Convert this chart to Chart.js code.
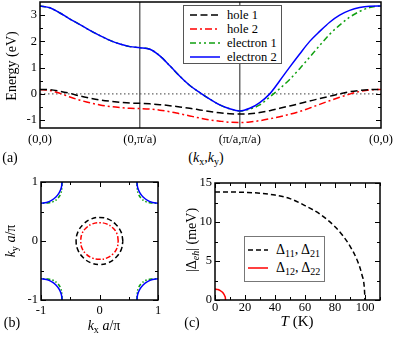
<!DOCTYPE html>
<html lang="en">
<head>
<meta charset="UTF-8">
<title>Bands, Fermi surface and gaps</title>
<script src="https://cdn.jsdelivr.net/npm/chart.js"></script>
<style>
  body { margin: 0; background: #fff; }
  #fig { position: relative; width: 395px; height: 338px; font-family: "Liberation Serif", "Times New Roman", serif; color: #000; }
  #fig canvas { position: absolute; }
  .lbl { position: absolute; white-space: nowrap; font-size: 13px; line-height: 1; }
  .ctr { transform: translate(-50%, -50%); }
  .rot { transform: translate(-50%, -50%) rotate(-90deg); }
  .legend { position: absolute; background: #fff; box-sizing: border-box; }
  .legend span { position: absolute; white-space: nowrap; font-size: 12.5px; line-height: 1; transform: translateY(-50%); }
  .legend svg { position: absolute; }
  sub { font-size: 0.72em; position: relative; top: 0.25em; vertical-align: baseline; line-height: 0; }
</style>
</head>
<body>
<div id="fig">
  <canvas id="bands" width="395" height="150" style="left:0;top:0"></canvas>
  <canvas id="fermi" width="195" height="150" style="left:0;top:170px"></canvas>
  <canvas id="gaps" width="200" height="150" style="left:195px;top:170px"></canvas>

  <div class="legend" id="legA" style="left:183px;top:5px;width:99px;height:59px;border:1.5px solid #555"></div>
  <div class="legend" id="legC" style="left:244px;top:236px;width:81px;height:46px;border:1.5px solid #777"></div>

  <div class="lbl rot" style="left:12px;top:66px;font-size:14px">Energy (eV)</div>
  <div class="lbl ctr" style="left:206px;top:158px;font-size:14px">(<i>k</i><sub>x</sub>,<i>k</i><sub>y</sub>)</div>
  <div class="lbl ctr" style="left:10px;top:158px;font-size:14px">(a)</div>

  <div class="lbl rot" style="left:11px;top:241px;font-size:14px"><i>k</i><sub>y</sub> <i>a</i>/π</div>
  <div class="lbl ctr" style="left:104px;top:326px;font-size:14px"><i>k</i><sub>x</sub> <i>a</i>/π</div>
  <div class="lbl ctr" style="left:12px;top:323px;font-size:14px">(b)</div>

  <div class="lbl rot" style="left:192px;top:240px;font-size:14px">|Δ<sub><i>eh</i></sub>| (meV)</div>
  <div class="lbl ctr" style="left:297px;top:321px;font-size:15px"><i>T</i> (K)</div>
  <div class="lbl ctr" style="left:192px;top:323px;font-size:14px">(c)</div>
</div>

<script>
// ---- panel (a): bands along (0,0) -> (0,pi/a) -> (pi/a,pi/a) -> (0,0)
const kPath = [0, 0.1, 0.2, 0.3, 0.4, 0.5, 0.6, 0.7, 0.8, 0.9, 1.0,
  1.1, 1.2, 1.3, 1.4, 1.5, 1.6, 1.7, 1.8, 1.9, 2.0,
  2.1, 2.2, 2.3, 2.4, 2.5, 2.6, 2.7, 2.8, 2.9, 3.0, 3.1, 3.2, 3.3, 3.414];
const hole1 = [0.17, 0.16, 0.10, 0.02, -0.08, -0.16, -0.23, -0.28, -0.32, -0.35, -0.36,
  -0.38, -0.41, -0.45, -0.50, -0.55, -0.61, -0.67, -0.72, -0.76, -0.77,
  -0.76, -0.71, -0.64, -0.55, -0.46, -0.37, -0.27, -0.18, -0.09, 0.0, 0.08, 0.13, 0.16, 0.17];
const hole2 = [0.17, 0.13, 0.02, -0.12, -0.24, -0.34, -0.42, -0.48, -0.52, -0.55, -0.56,
  -0.58, -0.62, -0.68, -0.76, -0.84, -0.92, -0.99, -1.04, -1.08, -1.09,
  -1.07, -1.02, -0.95, -0.87, -0.78, -0.67, -0.54, -0.40, -0.26, -0.13, -0.01, 0.09, 0.15, 0.17];
const electron1 = [3.35, 3.28, 3.08, 2.85, 2.64, 2.42, 2.22, 2.04, 1.90, 1.80, 1.76,
  1.70, 1.45, 1.07, 0.67, 0.32, 0.05, -0.20, -0.42, -0.57, -0.65,
  -0.58, -0.42, -0.12, 0.20, 0.55, 0.96, 1.40, 1.84, 2.27, 2.62, 2.92, 3.14, 3.29, 3.35];
const electron2 = [3.35, 3.28, 3.08, 2.85, 2.64, 2.42, 2.22, 2.04, 1.90, 1.80, 1.76,
  1.70, 1.45, 1.07, 0.67, 0.32, 0.05, -0.20, -0.42, -0.57, -0.65,
  -0.55, -0.33, 0.0, 0.50, 1.02, 1.52, 2.0, 2.38, 2.73, 3.0, 3.18, 3.29, 3.34, 3.35];
const kTickPos = [0, 1, 2, 3.414];
const kTickLabels = ['(0,0)', '(0,\u03c0/a)', '(\u03c0/a,\u03c0/a)', '(0,0)'];
const energyTicks = [-1, 0, 1, 2, 3];
const energyMinor = [-0.5, 0.5, 1.5, 2.5];

// ---- panel (b): Fermi surface, points in units of pi/a
const fsHole1 = [[0.40, 0], [0.37, 0.15], [0.28, 0.28], [0.15, 0.37], [0, 0.40], [-0.15, 0.37], [-0.28, 0.28], [-0.37, 0.15],
  [-0.40, 0], [-0.37, -0.15], [-0.28, -0.28], [-0.15, -0.37], [0, -0.40], [0.15, -0.37], [0.28, -0.28], [0.37, -0.15], [0.40, 0]];
const fsHole2 = [[0.32, 0], [0.30, 0.12], [0.23, 0.22], [0.12, 0.29], [0, 0.31], [-0.12, 0.29], [-0.23, 0.22], [-0.30, 0.12],
  [-0.32, 0], [-0.30, -0.12], [-0.23, -0.22], [-0.12, -0.29], [0, -0.31], [0.12, -0.29], [0.23, -0.22], [0.30, -0.12], [0.32, 0]];
const fsElec2TR = [[0.64, 1], [0.652, 0.907], [0.688, 0.82], [0.745, 0.745], [0.82, 0.688], [0.907, 0.652], [1, 0.64]];
const fsElec2TL = [[-0.64, 1], [-0.652, 0.907], [-0.688, 0.82], [-0.745, 0.745], [-0.82, 0.688], [-0.907, 0.652], [-1, 0.64]];
const fsElec2BL = [[-0.64, -1], [-0.652, -0.907], [-0.688, -0.82], [-0.745, -0.745], [-0.82, -0.688], [-0.907, -0.652], [-1, -0.64]];
const fsElec2BR = [[0.64, -1], [0.652, -0.907], [0.688, -0.82], [0.745, -0.745], [0.82, -0.688], [0.907, -0.652], [1, -0.64]];
const fsElec1TR = [[0.64, 1], [0.643, 0.904], [0.662, 0.805], [0.717, 0.717], [0.805, 0.662], [0.904, 0.643], [1, 0.64]];
const fsElec1TL = [[-0.64, 1], [-0.643, 0.904], [-0.662, 0.805], [-0.717, 0.717], [-0.805, 0.662], [-0.904, 0.643], [-1, 0.64]];
const fsElec1BL = [[-0.64, -1], [-0.643, -0.904], [-0.662, -0.805], [-0.717, -0.717], [-0.805, -0.662], [-0.904, -0.643], [-1, -0.64]];
const fsElec1BR = [[0.64, -1], [0.643, -0.904], [0.662, -0.805], [0.717, -0.717], [0.805, -0.662], [0.904, -0.643], [1, -0.64]];
const kTicks = [-1, 0, 1];
const kMinor = [-0.5, 0.5];

// ---- panel (c): gaps vs temperature
const tempA = [0, 10, 20, 30, 40, 50, 60, 70, 80, 85, 90, 95, 98, 99.5, 100];
const gap11 = [13.85, 13.85, 13.8, 13.7, 13.45, 13.0, 12.1, 11.0, 9.4, 8.3, 6.9, 5.0, 3.2, 1.7, 0];
const tempB = [0, 2, 3.5, 5, 6, 6.6, 6.9, 7];
const gap12 = [1.4, 1.34, 1.21, 0.98, 0.72, 0.48, 0.3, 0];
const tTicks = [0, 20, 40, 60, 80, 100];
const tMinor = [10, 30, 50, 70, 90, 110];
const gapTicks = [0, 5, 10, 15];
const gapMinor = [2.5, 7.5, 12.5];

const serif = 'Liberation Serif, Times New Roman, serif';
Chart.defaults.font.family = serif;
Chart.defaults.font.size = 12.5;
Chart.defaults.color = '#000';
const tickFont = { family: serif, size: 12.5 };

// inward ticks on all four sides + the box
const frame = {
  id: 'frame',
  afterDatasetsDraw(chart, args, o) {
    const { ctx, chartArea: a } = chart;
    const xs = chart.scales.x, ys = chart.scales.y;
    ctx.save();
    ctx.strokeStyle = '#000';
    ctx.lineWidth = 1;
    ctx.beginPath();
    const xt = (vals, len) => vals.forEach(v => {
      const p = Math.round(xs.getPixelForValue(v)) + 0.5;
      ctx.moveTo(p, a.bottom); ctx.lineTo(p, a.bottom - len);
      ctx.moveTo(p, a.top); ctx.lineTo(p, a.top + len);
    });
    const yt = (vals, len) => vals.forEach(v => {
      const p = Math.round(ys.getPixelForValue(v)) + 0.5;
      ctx.moveTo(a.left, p); ctx.lineTo(a.left + len, p);
      ctx.moveTo(a.right, p); ctx.lineTo(a.right - len, p);
    });
    xt(o.xMajor || [], 5); xt(o.xMinor || [], 3);
    yt(o.yMajor || [], 5); yt(o.yMinor || [], 3);
    ctx.stroke();
    ctx.lineWidth = 1.5;
    ctx.strokeRect(a.left, a.top, a.width, a.height);
    ctx.restore();
  }
};

function noPad(s) { s.paddingLeft = 0; s.paddingRight = 0; s.paddingTop = 0; s.paddingBottom = 0; }
function fixTicks(vals) { return s => { s.ticks = vals.map(v => ({ value: v })); }; }

const common = {
  responsive: false, animation: false, devicePixelRatio: 1,
  elements: { point: { radius: 0 } },
};

const styles = {
  hole1: { borderColor: '#000', borderDash: [7, 3.5] },
  hole2: { borderColor: '#ff0000', borderDash: [7, 3, 2, 3] },
  electron1: { borderColor: '#10a010', borderDash: [6, 3, 2, 3, 2, 3] },
  electron2: { borderColor: '#0000ff', borderDash: [] },
};

const pts = (xs, ys) => xs.map((x, i) => ({ x: x, y: ys[i] }));
const pairs = arr => arr.map(p => ({ x: p[0], y: p[1] }));

// (a)
new Chart(document.getElementById('bands'), {
  type: 'line',
  data: {
    datasets: [
      { label: 'hole 1', data: pts(kPath, hole1), ...styles.hole1, borderWidth: 1.5, order: 2 },
      { label: 'hole 2', data: pts(kPath, hole2), ...styles.hole2, borderWidth: 1.5, order: 3 },
      { label: 'electron 1', data: pts(kPath, electron1), ...styles.electron1, borderWidth: 1.5, order: 1 },
      { label: 'electron 2', data: pts(kPath, electron2), ...styles.electron2, borderWidth: 1.5, order: 0 },
      { label: 'zero', data: pts([0, 3.414], [0, 0]), borderColor: '#666', borderDash: [1.5, 2.5], borderWidth: 1.3, order: 4 },
    ]
  },
  options: {
    ...common,
    cubicInterpolationMode: 'monotone',
    layout: { padding: { left: 0, top: 2, right: 14, bottom: 0 } },
    plugins: {
      legend: { display: false }, tooltip: { enabled: false },
      frame: { yMajor: energyTicks, yMinor: energyMinor }
    },
    scales: {
      x: {
        type: 'linear', min: 0, max: 3.414,
        afterBuildTicks: fixTicks(kTickPos),
        afterFit: s => { s.height = 22; noPad(s); },
        ticks: { font: tickFont, autoSkip: false, maxRotation: 0, padding: 4, callback: (v, i) => kTickLabels[i] },
        grid: {
          drawTicks: false, lineWidth: 1.5,
          color: c => (c.tick && (c.tick.value === 1 || c.tick.value === 2)) ? '#6a6a6a' : 'rgba(0,0,0,0)'
        },
        border: { display: false }
      },
      y: {
        min: -1.3, max: 3.5,
        afterBuildTicks: fixTicks(energyTicks),
        afterFit: s => { s.width = 40; noPad(s); },
        ticks: { font: tickFont, padding: 3 },
        grid: { display: false, drawTicks: false },
        border: { display: false }
      }
    }
  },
  plugins: [frame]
});

// (b)
const fsLine = { showLine: true, borderWidth: 1.5, tension: 0.4, fill: false };
new Chart(document.getElementById('fermi'), {
  type: 'scatter',
  data: {
    datasets: [
      { data: pairs(fsHole1), ...fsLine, borderColor: '#000', borderDash: [5, 3], order: 2 },
      { data: pairs(fsHole2), ...fsLine, borderColor: '#ff0000', borderDash: [5, 2, 1.5, 2], order: 3 },
      { data: pairs(fsElec1TR), ...fsLine, ...styles.electron1, borderDash: [4, 2, 1.5, 2, 1.5, 2], order: 1 },
      { data: pairs(fsElec1TL), ...fsLine, ...styles.electron1, borderDash: [4, 2, 1.5, 2, 1.5, 2], order: 1 },
      { data: pairs(fsElec1BL), ...fsLine, ...styles.electron1, borderDash: [4, 2, 1.5, 2, 1.5, 2], order: 1 },
      { data: pairs(fsElec1BR), ...fsLine, ...styles.electron1, borderDash: [4, 2, 1.5, 2, 1.5, 2], order: 1 },
      { data: pairs(fsElec2TR), ...fsLine, ...styles.electron2, order: 0 },
      { data: pairs(fsElec2TL), ...fsLine, ...styles.electron2, order: 0 },
      { data: pairs(fsElec2BL), ...fsLine, ...styles.electron2, order: 0 },
      { data: pairs(fsElec2BR), ...fsLine, ...styles.electron2, order: 0 },
    ]
  },
  options: {
    ...common,
    layout: { padding: { left: 0, top: 12, right: 37, bottom: 0 } },
    plugins: {
      legend: { display: false }, tooltip: { enabled: false },
      frame: { xMajor: kTicks, xMinor: kMinor, yMajor: kTicks, yMinor: kMinor }
    },
    scales: {
      x: {
        type: 'linear', min: -1, max: 1,
        afterBuildTicks: fixTicks(kTicks),
        afterFit: s => { s.height = 20; noPad(s); },
        ticks: { font: tickFont, padding: 3, autoSkip: false, maxRotation: 0 },
        grid: { display: false, drawTicks: false }, border: { display: false }
      },
      y: {
        min: -1, max: 1,
        afterBuildTicks: fixTicks(kTicks),
        afterFit: s => { s.width = 41; noPad(s); },
        ticks: { font: tickFont, padding: 3 },
        grid: { display: false, drawTicks: false }, border: { display: false }
      }
    }
  },
  plugins: [frame]
});

// (c)
new Chart(document.getElementById('gaps'), {
  type: 'line',
  data: {
    datasets: [
      { label: '\u039411, \u039421', data: pts(tempA, gap11), borderColor: '#000', borderDash: [5, 3], borderWidth: 1.5 },
      { label: '\u039412, \u039422', data: pts(tempB, gap12), borderColor: '#ff0000', borderWidth: 1.5 },
    ]
  },
  options: {
    ...common,
    cubicInterpolationMode: 'monotone',
    layout: { padding: { left: 0, top: 13, right: 15, bottom: 0 } },
    plugins: {
      legend: { display: false }, tooltip: { enabled: false },
      frame: { xMajor: tTicks, xMinor: tMinor, yMajor: gapTicks, yMinor: gapMinor }
    },
    scales: {
      x: {
        type: 'linear', min: 0, max: 110,
        afterBuildTicks: fixTicks(tTicks),
        afterFit: s => { s.height = 20; noPad(s); },
        ticks: { font: tickFont, padding: 0, autoSkip: false, maxRotation: 0 },
        grid: { display: false, drawTicks: false }, border: { display: false }
      },
      y: {
        min: 0, max: 15,
        afterBuildTicks: fixTicks(gapTicks),
        afterFit: s => { s.width = 20; noPad(s); },
        ticks: { font: tickFont, padding: 3 },
        grid: { display: false, drawTicks: false }, border: { display: false }
      }
    }
  },
  plugins: [frame]
});

// legends (HTML so that subscripts are real text)
function buildLegend(id, items, o) {
  const box = document.getElementById(id);
  items.forEach((it, i) => {
    const cy = o.top + i * o.step;
    const svg = document.createElementNS('http://www.w3.org/2000/svg', 'svg');
    svg.setAttribute('width', o.lineW); svg.setAttribute('height', 6);
    svg.style.left = o.lineX + 'px'; svg.style.top = (cy - 3) + 'px';
    const ln = document.createElementNS('http://www.w3.org/2000/svg', 'line');
    ln.setAttribute('x1', 0); ln.setAttribute('y1', 3); ln.setAttribute('x2', o.lineW); ln.setAttribute('y2', 3);
    ln.setAttribute('stroke', it.color); ln.setAttribute('stroke-width', 1.5);
    if (it.dash.length) ln.setAttribute('stroke-dasharray', it.dash.join(' '));
    svg.appendChild(ln);
    box.appendChild(svg);
    const sp = document.createElement('span');
    sp.innerHTML = it.html;
    sp.style.left = o.textX + 'px'; sp.style.top = cy + 'px';
    if (o.size) sp.style.fontSize = o.size;
    box.appendChild(sp);
  });
}

buildLegend('legA', [
  { html: 'hole 1', color: styles.hole1.borderColor, dash: styles.hole1.borderDash },
  { html: 'hole 2', color: styles.hole2.borderColor, dash: styles.hole2.borderDash },
  { html: 'electron 1', color: styles.electron1.borderColor, dash: styles.electron1.borderDash },
  { html: 'electron 2', color: styles.electron2.borderColor, dash: styles.electron2.borderDash },
], { top: 9, step: 13.9, lineX: 6, lineW: 30, textX: 43 });

buildLegend('legC', [
  { html: '\u0394<sub>11</sub>, \u0394<sub>21</sub>', color: '#000', dash: [5, 3] },
  { html: '\u0394<sub>12</sub>, \u0394<sub>22</sub>', color: '#ff0000', dash: [] },
], { top: 13, step: 18.3, lineX: 3, lineW: 20, textX: 31, size: '14px' });
</script>
</body>
</html>
